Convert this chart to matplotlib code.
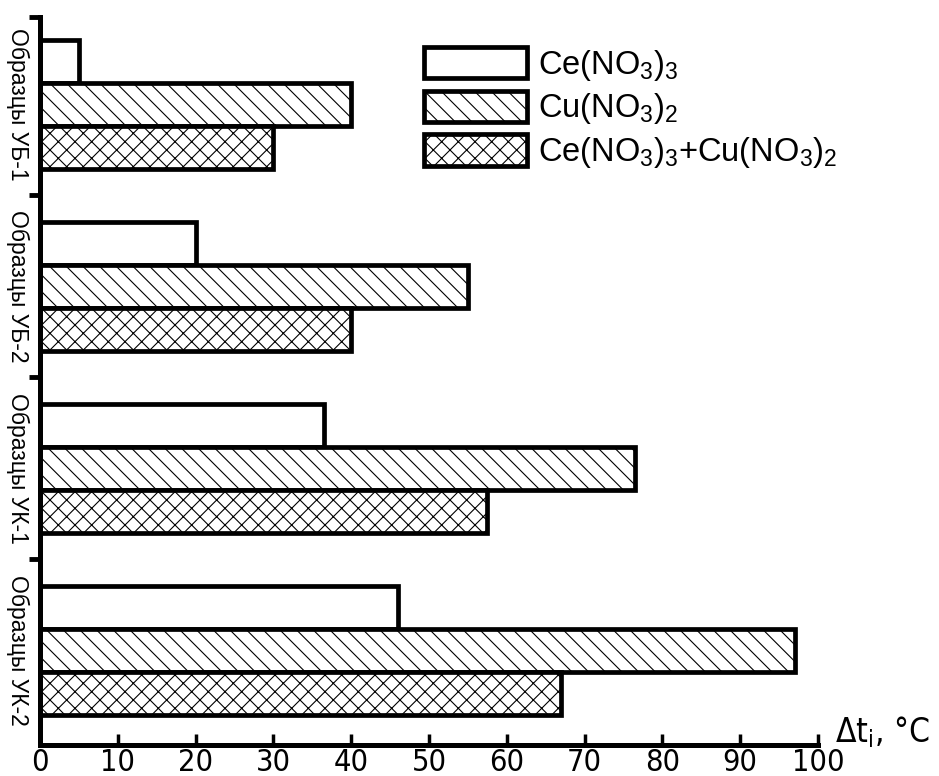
import matplotlib
matplotlib.use("Agg")
import matplotlib.pyplot as plt
from matplotlib import font_manager

# data
groups = ["Образцы УБ-1", "Образцы УБ-2", "Образцы УК-1", "Образцы УК-2"]
ce = [5, 20, 36.5, 46]
cu = [40, 55, 76.5, 97]
mix = [30, 40, 57.5, 67]
series_labels = ["Ce(NO$_3$)$_3$", "Cu(NO$_3$)$_2$", "Ce(NO$_3$)$_3$+Cu(NO$_3$)$_2$"]
xticks = list(range(0, 101, 10))

fams = {(f.name, f.stretch) for f in font_manager.fontManager.ttflist}
names = {n for n, _ in fams}
if "Liberation Sans Narrow" in names:
    narrow = dict(fontfamily="Liberation Sans Narrow")
elif any(n == "DejaVu Sans" and s not in ("normal", 500) for n, s in fams):
    narrow = dict(fontfamily="DejaVu Sans", fontstretch="condensed")
else:
    narrow = dict(fontfamily="Liberation Sans")

plt.rcParams["font.family"] = ["Liberation Sans", "DejaVu Sans"]
plt.rcParams["mathtext.fontset"] = "custom"
plt.rcParams["mathtext.rm"] = "Liberation Sans"
plt.rcParams["mathtext.default"] = "regular"
plt.rcParams["hatch.linewidth"] = 0.8

fig = plt.figure(figsize=(9.39, 7.76), dpi=100)
ax = fig.add_axes([40 / 939, 31 / 776, 778 / 939, 728 / 776])

h = 0.235
ypos = list(range(len(groups)))
styles = [("", ce), ("\\\\", cu), ("xx", mix)]
handles = []
for k, (hatch, vals) in enumerate(styles):
    b = ax.barh([y + (k - 1) * h for y in ypos], vals, height=h, left=0,
                color="white", edgecolor="black", linewidth=3.4, hatch=hatch,
                label=series_labels[k], zorder=2)
    handles.append(b)

ax.set_xlim(0, 100)
ax.set_ylim(3.52, -0.48)
ax.spines["top"].set_visible(False)
ax.spines["right"].set_visible(False)
for s in ("left", "bottom"):
    ax.spines[s].set_linewidth(3.6)
    ax.spines[s].set_zorder(3)

ax.set_xticks(xticks)
ax.set_xticklabels([str(t) for t in xticks], fontsize=22, **narrow)
ax.tick_params(axis="x", direction="in", length=8, width=2.5, pad=2)
ax.set_yticks([-0.48, 0.5, 1.5, 2.5])
ax.set_yticklabels([])
ax.tick_params(axis="y", direction="out", length=8, width=3.5)

for y, name in zip(ypos, groups):
    ax.text(-22 / 778, y, name, transform=ax.get_yaxis_transform(), rotation=-90,
            ha="center", va="center", fontsize=16.5)

ax.text(1.022, 0.017, "Δt$_\\mathregular{i}$, °C", transform=ax.transAxes,
        ha="left", va="center", fontsize=24, **narrow)

leg = ax.legend(handles=handles, loc="upper left", bbox_to_anchor=(424 / 939, 1 - 47 / 776),
                bbox_transform=fig.transFigure, frameon=False, fontsize=23.5,
                handlelength=3.15, handleheight=1.1, labelspacing=0.24, handletextpad=0.35,
                borderaxespad=0, borderpad=0)

fig.savefig("out.png", dpi=100, facecolor="white")
